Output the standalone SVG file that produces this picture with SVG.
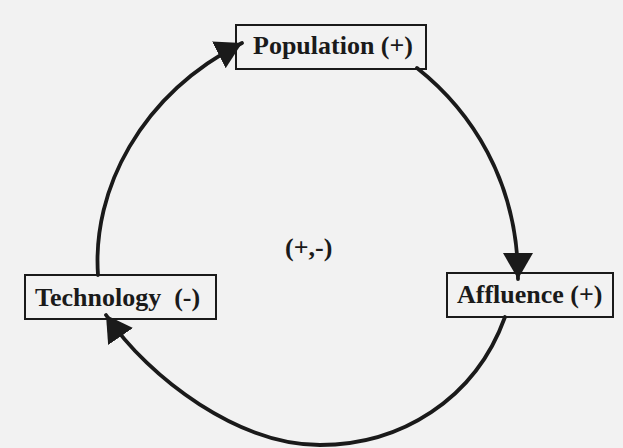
<svg xmlns="http://www.w3.org/2000/svg" width="623" height="448" viewBox="0 0 623 448">
  <style>
    .box { fill: #f2f2f2; stroke: #1a1a1a; stroke-width: 2; }
    .lbl { font-family: "Liberation Serif", "Times New Roman", serif; font-weight: bold; font-size: 26px; fill: #1a1a1a; }
    .conn { fill: none; stroke: #1a1a1a; stroke-width: 3.8; stroke-linecap: round; }
  </style>
  <defs>
    <marker id="arrow" markerUnits="userSpaceOnUse" markerWidth="28" markerHeight="32" refX="26" refY="15" orient="auto" viewBox="0 0 28 30">
      <path d="M0,0 L26,15 L0,30 z" fill="#1a1a1a"/>
    </marker>
  </defs>
  <rect x="0" y="0" width="623" height="448" fill="#f2f2f2"/>

  <g id="node-population">
    <rect class="box" x="236" y="25" width="190" height="44"/>
    <text class="lbl" x="253" y="54">Population (+)</text>
  </g>
  <g id="node-technology">
    <rect class="box" x="25" y="275" width="191" height="44"/>
    <text class="lbl" x="35" y="306" xml:space="preserve">Technology  (-)</text>
  </g>
  <g id="node-affluence">
    <rect class="box" x="447" y="273" width="166" height="44"/>
    <text class="lbl" x="457" y="303">Affluence (+)</text>
  </g>
  <g id="center-label">
    <text class="lbl" x="285" y="256" font-size="24">(+,-)</text>
  </g>

  <g id="connectors">
    <path class="conn" d="M 98 275 C 92 190, 140 95, 242 43" marker-end="url(#arrow)"/>
    <path class="conn" d="M 417 68 C 470 110, 518 180, 518 279" marker-end="url(#arrow)"/>
    <path class="conn" d="M 505 317 C 475 400, 400 445, 320 445 C 240 445, 150 380, 106 315" marker-end="url(#arrow)"/>
  </g>
</svg>
